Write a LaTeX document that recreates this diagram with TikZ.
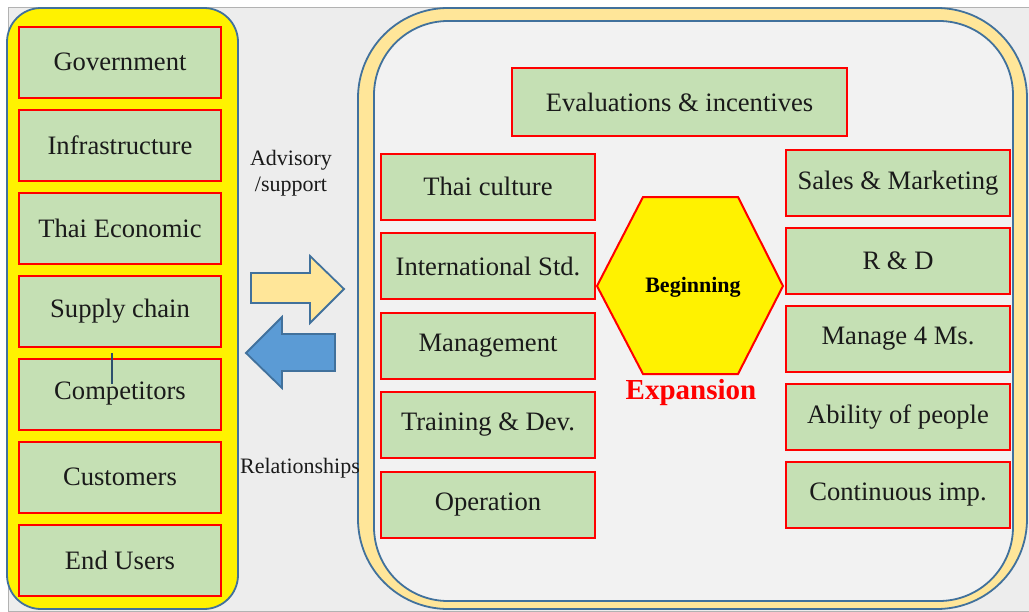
\documentclass[tikz,border=0pt]{standalone}
\usepackage{fontspec}
\setmainfont{Liberation Serif}
\usepackage{tikz}
\usetikzlibrary{positioning}
\definecolor{boxgreen}{HTML}{C5E0B4}
\definecolor{panelblue}{HTML}{41719C}
\definecolor{ringtan}{HTML}{FFE699}
\definecolor{arrowblue}{HTML}{5B9BD5}
\definecolor{pagegrey}{HTML}{EDEDED}
\definecolor{innergrey}{HTML}{F2F2F2}
\definecolor{inkblack}{HTML}{1A1A1A}
\pgfdeclarelayer{panels}
\pgfsetlayers{panels,main}
\tikzstyle{factor}=[rectangle,fill=boxgreen,draw=red,line width=1pt,text=inkblack,font=\fontsize{13.3}{15}\selectfont]
\tikzstyle{outer}=[factor,minimum width=101pt,minimum height=35.5pt]
\tikzstyle{inner}=[factor,minimum width=107pt,minimum height=33pt]
\tikzstyle{skill}=[factor,minimum width=112pt,minimum height=33pt]
\tikzstyle{panel}=[draw=panelblue,line width=0.9pt]
\tikzstyle{bigarrow}=[draw=panelblue,line width=0.9pt]
\tikzstyle{note}=[text=inkblack,font=\fontsize{11}{13}\selectfont]
\def\blockdist{5pt}
\def\middist{5.75pt}

\begin{document}
\begin{tikzpicture}[x=0.5pt,y=-0.5pt]
		\useasboundingbox (0,0) rectangle (1029,611);

		% outside factors
		\node[outer] (gov) at (120,62) {Government};
		\node[outer,below=\blockdist of gov] (infra) {Infrastructure};
		\node[outer,below=\blockdist of infra] (econ) {Thai Economic};
		\node[outer,below=\blockdist of econ] (supply) {Supply chain};
		\node[outer,below=\blockdist of supply] (compet) {Competitors};
		\node[outer,below=\blockdist of compet] (cust) {Customers};
		\node[outer,below=\blockdist of cust] (users) {End Users};

		% exchange between both sides
		\node[note,align=center] (advice) at (291,173) {Advisory\\/support};
		\node[note] (relate) at (300,468) {Relationships};
		\draw[bigarrow,fill=ringtan] (251,273) -- (310,273) -- (310,256) -- (344,289) -- (310,323) -- (310,303) -- (251,303) -- cycle;
		\draw[bigarrow,fill=arrowblue] (335,334) -- (282,334) -- (282,317) -- (246,353) -- (282,388) -- (282,371) -- (335,371) -- cycle;

		% firm
		\node[factor,minimum width=167.5pt,minimum height=34pt] (evals) at (679.5,102) {Evaluations \& incentives};
		%% inner column
		\node[inner] (culture) at (488,186.5) {Thai culture};
		\node[inner,below=\middist of culture] (intstd) {International Std.};
		\node[inner,below=\middist of intstd] (manage) {Management};
		\node[inner,below=\middist of manage] (train) {Training \& Dev.};
		\node[inner,below=\middist of train] (oper) {Operation};
		%% skill column
		\node[skill] (sales) at (898,183) {Sales \& Marketing};
		\node[skill,below=\blockdist of sales] (rnd) {R \& D};
		\node[skill,below=\blockdist of rnd] (fourms) {Manage 4 Ms.};
		\node[skill,below=\blockdist of fourms] (people) {Ability of people};
		\node[skill,below=\blockdist of people] (contimp) {Continuous imp.};
		%% stages
		\draw[fill=yellow,draw=red,line width=1pt] (597,286) -- (643,197) -- (738,197) -- (783,286) -- (738,374) -- (643,374) -- cycle;
		\node[font=\bfseries\fontsize{11}{13}\selectfont] (begin) at (693,287) {Beginning};
		\node[text=red,font=\bfseries\fontsize{14.5}{16}\selectfont] (expand) at (691,393) {Expansion};

		\coordinate (tickA) at (112,353);
		\coordinate (tickB) at (112,384);
		\draw[panelblue!70!black,line width=0.6pt] (tickA) -- (tickB);

		\begin{pgfonlayer}{panels}
			\draw[draw=gray!60,fill=pagegrey] (8,7) rectangle (1029,611);
			\draw[panel,fill=yellow,rounded corners=17pt] (7,8) rectangle (238,609);
			\draw[panel,fill=ringtan,rounded corners=45pt] (358,8) rectangle (1027,609);
			\draw[panel,fill=innergrey,rounded corners=37pt] (374,21) rectangle (1013,601);
		\end{pgfonlayer}
	\end{tikzpicture}
\end{document}
